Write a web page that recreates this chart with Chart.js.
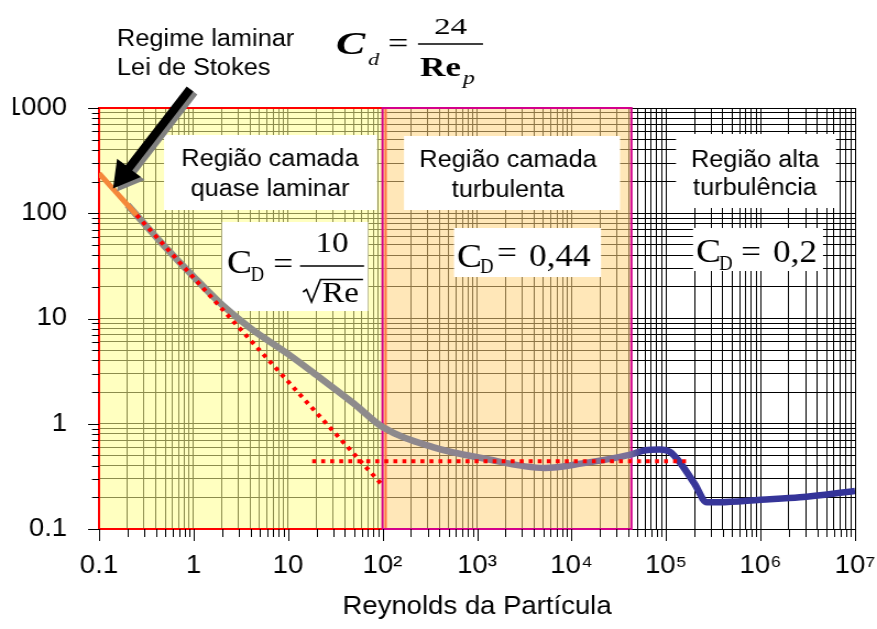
<!DOCTYPE html>
<html>
<head>
<meta charset="utf-8">
<script src="https://cdn.jsdelivr.net/npm/chart.js@4/dist/chart.umd.min.js"></script>
<style>
html,body{margin:0;padding:0;background:#fff;overflow:hidden}
#wrap{width:797px;height:629px;transform:scaleX(1.10038);transform-origin:0 0}
canvas{display:block}
</style>
</head>
<body>
<div id="wrap"><canvas id="c" width="797" height="629"></canvas></div>
<script>
// ---------------- DATA ----------------
const xDecades = [0.1, 1, 10, 100, 1e3, 1e4, 1e5, 1e6, 1e7];
const xTickLabels = ['0.1', '1', '10', '10²', '10³', '10⁴', '10⁵', '10⁶', '10⁷'];
const yDecades = [0.1, 1, 10, 100, 1000];
const yTickLabels = ['0.1', '1', '10', '100', '1000'];

// drag curve (grey -> blue)
const curveRe = [0.2, 0.5, 1, 2, 4, 10, 20, 50, 100, 340, 1150, 5200, 13000, 42000, 60000, 86000, 110000, 140000, 200000, 270000, 370000, 1e6, 2.6e6, 1e7];
const curveCd = [120, 48, 25, 13.5, 8.1, 4.6, 2.9, 1.55, 0.93, 0.60, 0.47, 0.38, 0.42, 0.51, 0.56, 0.57, 0.54, 0.43, 0.27, 0.18, 0.18, 0.19, 0.20, 0.23];

// Stokes segment (orange)
const stokesRe = [0.1, 0.25];
const stokesCd = [240, 96];
// Stokes extension (red dotted)
const stokesLineRe = [0.25, 100];
const stokesLineCd = [96, 0.26];
// Newton constant (red dotted)
const newtonRe = [18, 1.8e5];
const newtonCd = [0.44, 0.44];

// regions
const regionStart = [0.1, 100];
const regionEnd = [108, 43000];

const titleX = 'Reynolds da Partícula';

// ---------------- HELPERS ----------------
const S = 877 / 797;
const X = ix => ix / S;
const SANS = '"Liberation Sans", Arial, sans-serif';
const SERIF = '"Liberation Serif", "Times New Roman", serif';

function decadeTicks(lo, hi) {
  const out = [];
  for (let e = lo; e < hi; e++) for (let k = 1; k <= 9; k++) out.push(+(k * Math.pow(10, e)).toPrecision(12));
  out.push(+Math.pow(10, hi).toPrecision(12));
  return out;
}
function isDecade(v) { const l = Math.log10(v); return Math.abs(l - Math.round(l)) < 1e-9; }
function labelFor(list, labels, v) {
  const i = list.findIndex(d => Math.abs(d - v) <= d * 1e-9);
  return i < 0 ? '' : labels[i];
}
function pts(xs, ys) { return xs.map((x, i) => ({ x: x, y: ys[i] })); }

function txt(ctx, s, ix, iy, font, align, sx) {
  ctx.save();
  ctx.translate(X(ix), iy);
  if (sx) ctx.scale(sx, 1);
  ctx.font = font; ctx.textAlign = align || 'left'; ctx.textBaseline = 'alphabetic';
  ctx.fillStyle = '#000'; ctx.fillText(s, 0, 0);
  ctx.restore();
}
function hline(ctx, x1, x2, y, w) {
  ctx.beginPath(); ctx.moveTo(X(x1), y); ctx.lineTo(X(x2), y);
  ctx.lineWidth = w; ctx.strokeStyle = '#000'; ctx.stroke();
}
function whiteBox(ctx, x1, y1, x2, y2) {
  ctx.fillStyle = '#fff'; ctx.fillRect(X(x1), y1, X(x2) - X(x1), y2 - y1);
}

// ---------------- PLUGINS ----------------
const regionPlugin = {
  id: 'regions',
  beforeDatasetsDraw(chart) {
    const { ctx, chartArea: a, scales: { x } } = chart;
    const fills = ['rgba(255,255,140,0.55)', 'rgba(255,212,125,0.55)'];
    const strokes = ['#FF0000', '#D4008C'];
    ctx.save();
    for (let i = 0; i < regionStart.length; i++) {
      const x1 = x.getPixelForValue(regionStart[i]);
      const x2 = x.getPixelForValue(regionEnd[i]);
      ctx.fillStyle = fills[i];
      ctx.fillRect(x1, a.top, x2 - x1, a.bottom - a.top);
      ctx.strokeStyle = strokes[i];
      ctx.lineWidth = 2;
      ctx.strokeRect(x1, a.top, x2 - x1, a.bottom - a.top);
    }
    // white label boxes
    whiteBox(ctx, 164, 135, 377, 210);
    whiteBox(ctx, 404, 136, 620, 210);
    whiteBox(ctx, 676, 134, 836, 208);
    whiteBox(ctx, 222, 222, 368, 311);
    whiteBox(ctx, 454, 228, 601, 277);
    whiteBox(ctx, 693, 228, 823, 271);

    const f23 = '23px ' + SANS;
    txt(ctx, 'Região camada', 270, 166, f23, 'center');
    txt(ctx, 'quase laminar', 270, 196, f23, 'center');
    txt(ctx, 'Região camada', 508, 167, f23, 'center');
    txt(ctx, 'turbulenta', 508, 197, f23, 'center');
    txt(ctx, 'Região alta', 755, 167, f23, 'center');
    txt(ctx, 'turbulência', 755, 195, f23, 'center');

    // C_D = 10 / sqrt(Re)
    txt(ctx, 'C', 227, 273, '34px ' + SERIF);
    txt(ctx, 'D', 250.5, 281, '20px ' + SERIF, 'left', 0.85);
    txt(ctx, '=', 283, 274, '32px ' + SERIF, 'center');
    hline(ctx, 300, 364, 266, 1.5);
    txt(ctx, '10', 332, 252, '30px ' + SERIF, 'center');
    ctx.beginPath();
    ctx.moveTo(X(303), 292); ctx.lineTo(X(306.5), 289.5); ctx.lineTo(X(311.5), 302);
    ctx.lineTo(X(320.5), 279.5); ctx.lineTo(X(363), 279.5);
    ctx.lineWidth = 1.6; ctx.strokeStyle = '#000'; ctx.lineJoin = 'miter'; ctx.stroke();
    txt(ctx, 'Re', 322, 302, '30px ' + SERIF);

    // C_D = 0,44
    txt(ctx, 'C', 457, 267, '34px ' + SERIF);
    txt(ctx, 'D', 480, 273, '20px ' + SERIF, 'left', 0.85);
    txt(ctx, '=', 507, 263, '32px ' + SERIF, 'center');
    txt(ctx, '0,44', 529, 266, '32px ' + SERIF);

    // C_D = 0,2
    txt(ctx, 'C', 696, 262, '34px ' + SERIF);
    txt(ctx, 'D', 719, 270, '20px ' + SERIF, 'left', 0.85);
    txt(ctx, '=', 751, 262, '32px ' + SERIF, 'center');
    txt(ctx, '0,2', 773, 262, '32px ' + SERIF);
    ctx.restore();
  }
};

const overlayPlugin = {
  id: 'overlay',
  afterDraw(chart) {
    const { ctx, chartArea: a, scales: { x, y } } = chart;
    ctx.save();
    // tick marks (outside)
    ctx.strokeStyle = '#000'; ctx.lineWidth = 1;
    x.ticks.forEach(t => {
      const px = Math.round(x.getPixelForValue(t.value)) + 0.5;
      const len = isDecade(t.value) ? 12 : 8;
      ctx.beginPath(); ctx.moveTo(px, a.bottom); ctx.lineTo(px, a.bottom + len); ctx.stroke();
    });
    y.ticks.forEach(t => {
      const py = Math.round(y.getPixelForValue(t.value)) + 0.5;
      const len = isDecade(t.value) ? X(11) : X(7);
      ctx.beginPath(); ctx.moveTo(a.left - len, py); ctx.lineTo(a.left, py); ctx.stroke();
    });

    // top annotation text
    txt(ctx, 'Regime laminar', 117, 46, '23px ' + SANS);
    txt(ctx, 'Lei de Stokes', 117, 75, '23px ' + SANS);

    // top formula C_d = 24 / Re_p
    txt(ctx, 'C', 336, 54, 'italic bold 32px ' + SERIF, 'left', 1.25);
    txt(ctx, 'd', 368, 65, 'italic 17px ' + SERIF, 'left', 1.2);
    txt(ctx, '=', 398, 53, '30px ' + SERIF, 'center', 1.1);
    hline(ctx, 418, 483, 44, 1.3);
    txt(ctx, '24', 450.5, 34, '24px ' + SERIF, 'center', 1.25);
    txt(ctx, 'Re', 420, 76, 'bold 27px ' + SERIF, 'left', 1.18);
    txt(ctx, 'p', 463, 84, 'italic 18px ' + SERIF, 'left', 1.2);

    // arrow with shadow
    const T = [190, 89], P = [113, 188.5];
    const dx = P[0] - T[0], dy = P[1] - T[1], L = Math.hypot(dx, dy);
    const u = [dx / L, dy / L], n = [u[1], -u[0]];
    const H = 26, W = 15, w = 4.2;
    const B = [P[0] - H * u[0], P[1] - H * u[1]];
    const poly = [
      [T[0] + w * n[0], T[1] + w * n[1]], [B[0] + w * n[0], B[1] + w * n[1]],
      [B[0] + W * n[0], B[1] + W * n[1]], P,
      [B[0] - W * n[0], B[1] - W * n[1]], [B[0] - w * n[0], B[1] - w * n[1]],
      [T[0] - w * n[0], T[1] - w * n[1]]
    ];
    function drawPoly(ox, oy, col) {
      ctx.beginPath();
      poly.forEach((p, i) => { const px = X(p[0] + ox), py = p[1] + oy; i ? ctx.lineTo(px, py) : ctx.moveTo(px, py); });
      ctx.closePath(); ctx.fillStyle = col; ctx.fill();
    }
    drawPoly(4, 3, '#808080');
    drawPoly(0, 0, '#000000');

    // the reference is cropped at its left edge
    ctx.fillStyle = '#fff';
    ctx.fillRect(0, 90, X(13), 35);
    ctx.restore();
  }
};

// ---------------- CHART ----------------
const curveGradient = (c) => {
  const ch = c.chart; const xs = ch.scales && ch.scales.x;
  if (!ch.chartArea || !xs) return '#8E8E88';
  const x0 = ch.chartArea.left, x1 = ch.chartArea.right;
  const g = ch.ctx.createLinearGradient(x0, 0, x1, 0);
  [[0.1, '#8F918A'], [100, '#8E8A8C'], [3000, '#8A7F93'], [40000, '#7C7199'], [56000, '#3A389A'], [1e7, '#333399']]
    .forEach(([re, col]) => {
      const f = Math.min(1, Math.max(0, (xs.getPixelForValue(re) - x0) / (x1 - x0)));
      g.addColorStop(f, col);
    });
  return g;
};

const tickFont = { family: SANS, size: 25 };

new Chart(document.getElementById('c'), {
  type: 'line',
  data: {
    datasets: [
      { label: 'Cd', data: pts(curveRe, curveCd), borderColor: curveGradient, borderWidth: 6.5,
        pointRadius: 0, cubicInterpolationMode: 'monotone', borderCapStyle: 'butt', order: 4 },
      { label: 'Stokes', data: pts(stokesRe, stokesCd), borderColor: '#F5873A', borderWidth: 5,
        pointRadius: 0, order: 3 },
      { label: '24/Re', data: pts(stokesLineRe, stokesLineCd), borderColor: '#FF0000', borderWidth: 4,
        borderDash: [3.8, 4.8], pointRadius: 0, order: 2 },
      { label: '0,44', data: pts(newtonRe, newtonCd), borderColor: '#FF0000', borderWidth: 4,
        borderDash: [3.6, 4.6], pointRadius: 0, order: 1 }
    ]
  },
  options: {
    responsive: false,
    animation: false,
    devicePixelRatio: 1,
    layout: { padding: { top: 108, right: 20, left: 0, bottom: 0 } },
    plugins: { legend: { display: false }, tooltip: { enabled: false } },
    scales: {
      x: {
        type: 'logarithmic', min: 0.1, max: 1e7,
        afterBuildTicks: s => { s.ticks = decadeTicks(-1, 7).map(v => ({ value: v })); },
        afterFit: s => { s.height = 100; s.paddingLeft = 0; s.paddingRight = 0; },
        grid: { color: '#000', lineWidth: 1, drawTicks: false },
        border: { color: '#000', width: 1 },
        ticks: { autoSkip: false, maxRotation: 0, minRotation: 0, padding: 22, color: '#000', font: tickFont,
          callback: v => labelFor(xDecades, xTickLabels, v) },
        title: { display: true, text: titleX, color: '#000', font: { family: SANS, size: 25 },
          padding: { top: 0, bottom: 7 } }
      },
      y: {
        type: 'logarithmic', min: 0.1, max: 1000,
        afterBuildTicks: s => { s.ticks = decadeTicks(-1, 3).map(v => ({ value: v })); },
        afterFit: s => { s.width = 90; s.paddingTop = 0; s.paddingBottom = 0; },
        grid: { color: '#000', lineWidth: 1, drawTicks: false },
        border: { color: '#000', width: 1 },
        ticks: { autoSkip: false, padding: 29, color: '#000', font: tickFont,
          callback: v => labelFor(yDecades, yTickLabels, v) }
      }
    }
  },
  plugins: [regionPlugin, overlayPlugin]
});
</script>
</body>
</html>
